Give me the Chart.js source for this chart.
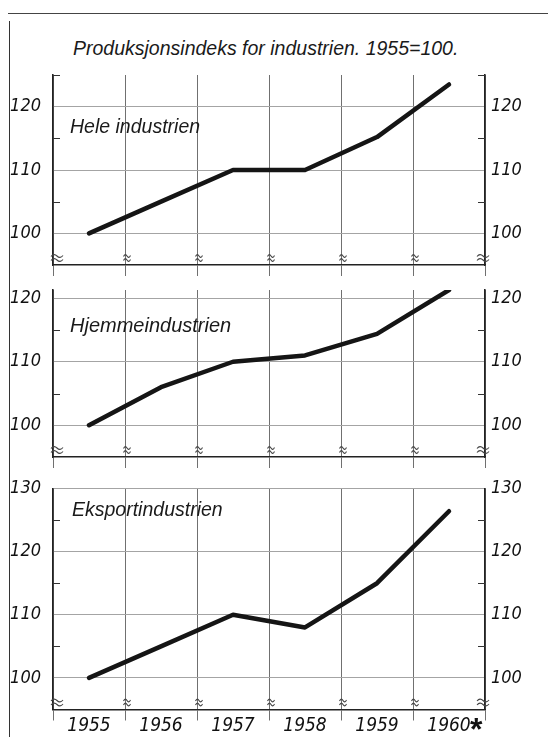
<!DOCTYPE html>
<html>
<head>
<meta charset="utf-8">
<script src="https://cdn.jsdelivr.net/npm/chart.js@4.4.1/dist/chart.umd.min.js"></script>
<style>
  html, body { margin:0; padding:0; background:#fff; }
  body { width:548px; height:737px; position:relative; overflow:hidden; }
  canvas { position:absolute; left:0; }
  .txt { position:absolute; font-family:"Liberation Sans", Arial, sans-serif; font-style:italic; color:#1a1a1a; white-space:nowrap; line-height:1; }
  .frame-top { position:absolute; left:8px; top:13px; width:540px; height:0; border-top:1.5px solid #444; }
  .frame-left { position:absolute; left:9px; top:21px; width:0; height:716px; border-left:1.5px solid #333; }
</style>
</head>
<body>
<div class="frame-top"></div>
<div class="frame-left"></div>
<div class="txt" id="title" style="left:73px; top:39px; font-size:19.5px;"></div>
<canvas id="c0" width="548" height="220" style="top:60px"></canvas>
<canvas id="c1" width="548" height="200" style="top:280px"></canvas>
<canvas id="c2" width="548" height="262" style="top:475px"></canvas>
<div class="txt" id="l0" style="left:70px; top:117px; font-size:19.5px;"></div>
<div class="txt" id="l1" style="left:70px; top:315px; font-size:20px;"></div>
<div class="txt" id="l2" style="left:72px; top:500px; font-size:19.5px;"></div>
<script>
// ---------- data ----------
const chartTitle = 'Produksjonsindeks for industrien. 1955=100.';
const years = ['1955', '1956', '1957', '1958', '1959', '1960'];
const lastYearMark = '*';
const panelNames = ['Hele industrien', 'Hjemmeindustrien', 'Eksportindustrien'];
const heleIndustrien    = [100, 105, 110, 110, 115.2, 123.5];
const hjemmeindustrien  = [100, 106, 110, 111, 114.4, 121.3];
const eksportindustrien = [100, 105, 110, 108, 115.0, 126.4];
const yMins = [95, 95, 95];
const yMaxs = [125, 121.3, 130];
const yTickStep = 5;
const yLabelStep = 10;

// ---------- layout (positions / styles) ----------
const layouts = [
  { padTop: 15,   xAxisH: 15,   showYears: false },
  { padTop: 10,   xAxisH: 23,   showYears: false },
  { padTop: 13.5, xAxisH: 27.5, showYears: true }
];
const seriesList = [heleIndustrien, hjemmeindustrien, eksportindustrien];
const numFont = { family: '"DejaVu Sans Condensed", "Liberation Sans", sans-serif', size: 19, style: 'italic', lineHeight: 1.2 };
const yNumFont = { family: '"DejaVu Sans Condensed", "Liberation Sans", sans-serif', size: 18, style: 'italic', lineHeight: 1.2 };

document.getElementById('title').textContent = chartTitle;
panelNames.forEach((n, i) => document.getElementById('l' + i).textContent = n);

function tilde(ctx, cx, cy, w) {
  ctx.beginPath();
  ctx.moveTo(cx - w / 2, cy + 0.5);
  ctx.quadraticCurveTo(cx - w / 4, cy - 3, cx, cy);
  ctx.quadraticCurveTo(cx + w / 4, cy + 3, cx + w / 2, cy - 0.5);
  ctx.stroke();
}

const extras = {
  id: 'extras',
  afterDraw(chart, args, opts) {
    const { ctx, chartArea: { left, right, top, bottom }, scales } = chart;
    const y = scales.y, x = scales.x;
    ctx.save();
    // minor inward ticks at odd multiples of 5
    ctx.strokeStyle = '#333';
    ctx.lineWidth = 1.2;
    for (let v = Math.ceil(y.min / yTickStep) * yTickStep; v <= y.max + 1e-6; v += yTickStep) {
      if (v % yLabelStep === 0 || v <= y.min) continue;
      const py = Math.round(y.getPixelForValue(v)) + 0.5;
      ctx.beginPath();
      ctx.moveTo(left, py); ctx.lineTo(left + 7, py);
      ctx.moveTo(right - 7, py); ctx.lineTo(right, py);
      ctx.stroke();
    }
    // axis-break symbols
    ctx.strokeStyle = '#444';
    ctx.lineWidth = 1.1;
    const n = x.getLabels().length;
    for (let i = 0; i <= n; i++) {
      const px = x.getPixelForValue(i - 0.5);
      const edge = (i === 0 || i === n);
      const w = edge ? 12 : 7;
      const cx = i === 0 ? px + 4 : (i === n ? px - 2 : px + 2);
      tilde(ctx, cx, bottom - 9, w);
      tilde(ctx, cx, bottom - 5, w);
    }
    // asterisk after the last year
    if (opts.mark) {
      ctx.fillStyle = '#111';
      ctx.font = 'bold 32px "Liberation Sans", sans-serif';
      ctx.textAlign = 'left';
      ctx.textBaseline = 'middle';
      const px = x.getPixelForValue(n - 1);
      ctx.fillText(opts.mark, px + 21, bottom + 22);
    }
    ctx.restore();
  }
};

function noPad(s) { s.paddingTop = 0; s.paddingBottom = 0; s.paddingLeft = 0; s.paddingRight = 0; }

seriesList.forEach((series, i) => {
  const L = layouts[i];
  new Chart(document.getElementById('c' + i), {
    type: 'line',
    data: {
      labels: years,
      datasets: [{
        data: series,
        borderColor: '#151515',
        borderWidth: 4.5,
        pointRadius: 0,
        tension: 0,
        borderCapStyle: 'round',
        borderJoinStyle: 'round',
        yAxisID: 'y'
      }, {
        data: series,
        borderColor: 'rgba(0,0,0,0)',
        borderWidth: 0,
        pointRadius: 0,
        yAxisID: 'y2'
      }]
    },
    options: {
      responsive: false,
      devicePixelRatio: 1,
      animation: false,
      events: [],
      layout: { padding: { top: L.padTop, left: 0, right: 0, bottom: 0 } },
      plugins: {
        legend: { display: false },
        tooltip: { enabled: false },
        title: { display: false },
        extras: { mark: L.showYears ? lastYearMark : null }
      },
      scales: {
        x: {
          type: 'category',
          offset: true,
          grid: { offset: true, color: '#707070', lineWidth: 1, tickLength: 11, drawTicks: true },
          border: { display: true, color: '#222', width: 1.6 },
          ticks: {
            display: L.showYears,
            color: '#111',
            font: numFont,
            padding: -6,
            maxRotation: 0
          },
          afterFit(s) { s.height = L.xAxisH; noPad(s); }
        },
        y: {
          position: 'left',
          min: yMins[i], max: yMaxs[i],
          grid: {
            drawTicks: false,
            color: c => (c.tick && c.tick.value % yLabelStep === 0) ? '#a4a4a4' : 'rgba(0,0,0,0)',
            lineWidth: 1
          },
          border: { display: true, color: '#222', width: 1.6 },
          ticks: {
            stepSize: yTickStep,
            includeBounds: false,
            color: '#111',
            font: yNumFont,
            padding: 12,
            callback: v => (v % yLabelStep === 0 && v > yMins[i]) ? String(v) : ''
          },
          afterFit(s) { s.width = 53; noPad(s); }
        },
        y2: {
          position: 'right',
          min: yMins[i], max: yMaxs[i],
          grid: { drawOnChartArea: false, drawTicks: false },
          border: { display: true, color: '#222', width: 1.6 },
          ticks: {
            stepSize: yTickStep,
            includeBounds: false,
            color: '#111',
            font: yNumFont,
            padding: 6,
            callback: v => (v % yLabelStep === 0 && v > yMins[i]) ? String(v) : ''
          },
          afterFit(s) { s.width = 63; noPad(s); }
        }
      }
    },
    plugins: [extras]
  });
});
</script>
</body>
</html>
